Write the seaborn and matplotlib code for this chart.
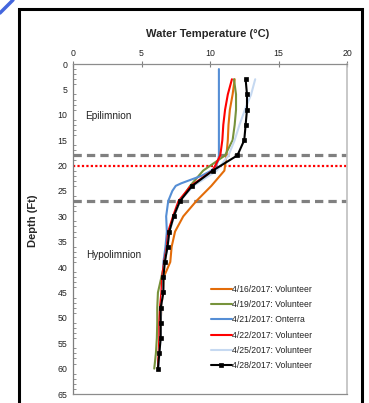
import matplotlib
matplotlib.use("Agg")
import matplotlib.pyplot as plt
import seaborn as sns
import pandas as pd
from matplotlib.lines import Line2D
from matplotlib.patches import Rectangle
from matplotlib.ticker import MultipleLocator

# ---------------- data ----------------
vol_depth = [3, 6, 9, 12, 15, 18, 21, 24, 27, 30, 33, 36, 39, 42, 45, 48, 51, 54, 57, 60]
t_0416 = [11.8, 11.65, 11.45, 11.35, 11.3, 11.2, 11.05, 10.1, 9.0, 8.05, 7.45, 7.2, 7.1, 6.62, 6.55, 6.45, 6.4, 6.35, 6.3, 6.2]
t_0419 = [11.75, 11.9, 11.9, 11.8, 11.65, 11.1, 9.5, 8.55, 7.8, 7.35, 7.0, 6.85, 6.7, 6.45, 6.2, 6.15, 6.15, 6.12, 6.05, 5.93]
t_0422 = [11.6, 11.3, 11.1, 10.97, 10.9, 10.75, 10.2, 8.6, 7.7, 7.3, 6.95, 6.85, 6.65, 6.5, 6.45, 6.35, 6.3, 6.3, 6.25, 6.2]
t_0425 = [13.3, 13.0, 12.55, 12.15, 11.8, 11.35, 10.5, 8.8, 7.8, 7.4, 7.05, 6.9, 6.7, 6.6, 6.55, 6.45, 6.4, 6.4, 6.3, 6.25]
t_0428 = [12.6, 12.7, 12.7, 12.6, 12.5, 12.0, 10.2, 8.7, 7.8, 7.35, 7.03, 6.9, 6.7, 6.6, 6.6, 6.4, 6.4, 6.4, 6.3, 6.2]

ont_depth = [1, 3, 6, 9, 12, 15, 18, 19, 20, 21, 22, 22.7, 23.5, 24, 25, 27, 30, 33, 36, 39, 42, 45, 48, 51, 54, 57, 60]
t_0421 = [10.65, 10.65, 10.65, 10.65, 10.65, 10.65, 10.65, 10.6, 10.45, 10.1, 9.4, 8.7, 7.9, 7.5, 7.25, 6.95, 6.8, 6.85, 6.75, 6.6, 6.55, 6.5, 6.4, 6.35, 6.35, 6.3, 6.2]

labels = ["4/16/2017: Volunteer", "4/19/2017: Volunteer", "4/21/2017: Onterra",
          "4/22/2017: Volunteer", "4/25/2017: Volunteer", "4/28/2017: Volunteer"]
x_ticks = [0, 5, 10, 15, 20]
y_ticks = [0, 5, 10, 15, 20, 25, 30, 35, 40, 45, 50, 55, 60, 65]
boundary_depths = [18, 27]
thermocline_depth = 20

series = [
    (labels[0], vol_depth, t_0416, "#E36C09", None),
    (labels[1], vol_depth, t_0419, "#77933C", None),
    (labels[2], ont_depth, t_0421, "#558ED5", None),
    (labels[3], vol_depth, t_0422, "#FF0000", None),
    (labels[4], vol_depth, t_0425, "#C6D9F1", None),
    (labels[5], vol_depth, t_0428, "#000000", "s"),
]

# ---------------- figure ----------------
sns.set_theme(style="white")
plt.rcParams["font.family"] = ["Liberation Sans", "DejaVu Sans"]

fig = plt.figure(figsize=(3.69, 4.03), dpi=100)
ax = fig.add_axes([73 / 369, 1 - 394 / 403, (347 - 73) / 369, (394 - 64) / 403])

for lab, d, t, c, m in series:
    df = pd.DataFrame({"temp": t, "depth": d})
    sns.lineplot(data=df, x="temp", y="depth", orient="y", ax=ax, color=c,
                 lw=1.5, marker=m, markersize=3.3 if m else 0,
                 markeredgewidth=0.5, markeredgecolor=c, label=lab,
                 estimator=None, zorder=3)

for bd in boundary_depths:
    ax.axhline(bd, color="#808080", lw=2.3, ls=(0, (2.6, 1.6)), zorder=2)
ax.axhline(thermocline_depth, color="#FF0000", lw=1.6, ls=(0, (1, 1)), zorder=2)

ax.set_xlim(0, 20)
ax.set_ylim(65, 0)
ax.xaxis.tick_top()
ax.set_xticks(x_ticks)
ax.set_yticks(y_ticks)
ax.yaxis.set_minor_locator(MultipleLocator(1))
ax.tick_params(axis="both", which="major", labelsize=6.3, direction="inout",
               length=4, width=0.8, color="#808080", pad=2, labelcolor="#222222")
ax.tick_params(axis="y", which="minor", left=True, direction="in", length=2.5,
               width=0.6, color="#808080")
ax.set_xlabel("")
ax.set_ylabel("")

for s in ["top", "bottom"]:
    ax.spines[s].set_color("#8c8c8c")
    ax.spines[s].set_linewidth(0.9)
ax.spines["left"].set_color("#7f7f7f")
ax.spines["left"].set_linewidth(0.9)
ax.spines["right"].set_color("#bfbfbf")
ax.spines["right"].set_linewidth(1.2)

ax.text(0.88, 10.2, "Epilimnion", fontsize=7.2, va="center", ha="left", color="#222222")
ax.text(0.95, 37.7, "Hypolimnion", fontsize=7.2, va="center", ha="left", color="#222222")

leg = ax.legend(loc="upper left", bbox_to_anchor=(211 / 369, 1 - 285 / 403),
                bbox_transform=fig.transFigure, frameon=False, fontsize=6.2,
                handlelength=2.4, handletextpad=0.05, labelspacing=0.72,
                borderpad=0, borderaxespad=0)
for txt in leg.get_texts():
    txt.set_color("#222222")

fig.text(208 / 369, 1 - 34 / 403, "Water Temperature (°C)", fontsize=8,
         fontweight="bold", ha="center", va="center")
fig.text(33 / 369, 1 - 221 / 403, "Depth (Ft)", fontsize=8, fontweight="bold",
         ha="center", va="center", rotation=90)

# outer frame
fig.patches.append(Rectangle((19 / 369, -0.05), (362 - 19) / 369, 1.05 - 8.5 / 403,
                             transform=fig.transFigure, fill=False,
                             edgecolor="black", lw=2.2))
# corner stripe
fig.lines.append(Line2D([0, 13 / 369], [1 - 13 / 403, 1], transform=fig.transFigure,
                        color="#4466DD", lw=2.5))

fig.savefig("out.png", dpi=100)
